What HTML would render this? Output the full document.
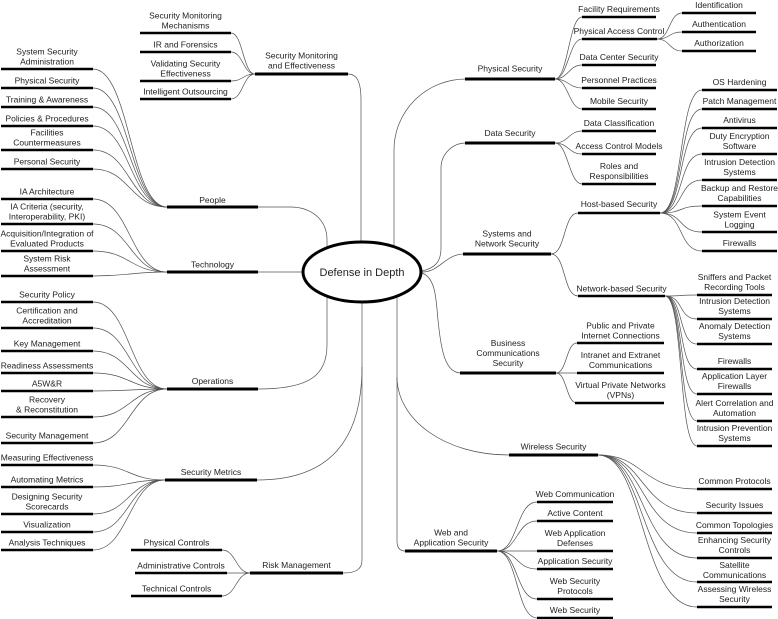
<!DOCTYPE html>
<html><head><meta charset="utf-8"><style>
html,body{margin:0;padding:0;background:#fff;}
svg{display:block;}
text{font-family:"Liberation Sans",Arial,sans-serif;font-size:8.5px;fill:#222;text-anchor:middle;}
.c{fill:none;stroke:#505050;stroke-width:0.7;}
.b1{stroke:#000;stroke-width:3;}
.b2{stroke:#000;stroke-width:2.6;}
</style></head><body>
<svg width="778" height="619" viewBox="0 0 778 619" xmlns="http://www.w3.org/2000/svg">
<!-- main connectors -->
<g class="c">
<path d="M348,74 C357,74 361,82 361,100 L361,243"/>
<path d="M394,247 L394,150 A72,71 0 0 1 466,79"/>
<path d="M422,271 C435,268 441,262 441,248 L441,168 A25,25 0 0 1 466,143"/>
<path d="M422,272 C440,272 445,254 464,254"/>
<path d="M422,273 C436,278 436,300 438,320 C441,350 445,373 461,373"/>
<path d="M258,207 L290,207 C312,207 327,220 327,240 L327,249"/>
<path d="M258,272 L304,272"/>
<path d="M327,295 L327,345 C327,375 310,389 258,389"/>
<path d="M362,302 L362,560 C362,570 355,573 343,573"/>
<path d="M362,367 C362,440 330,480 257,480"/>
<path d="M397,296 L397,541 C397,548 400,551 405,551"/>
<path d="M397,377 C397,420 445,455 509,455"/>

<!-- People fan -->
<path d="M93,69 C130,69 130,207 167,207"/>
<path d="M93,88 C130,88 130,207 167,207"/>
<path d="M93,107 C130,107 130,207 167,207"/>
<path d="M93,126 C130,126 130,207 167,207"/>
<path d="M93,150 C130,150 130,207 167,207"/>
<path d="M93,169 C130,169 130,207 167,207"/>
<!-- Technology fan -->
<path d="M93,199 C130,199 130,272 167,272"/>
<path d="M93,224 C130,224 130,272 167,272"/>
<path d="M93,251 C130,251 130,272 167,272"/>
<path d="M93,276 C130,276 130,272 167,272"/>
<!-- Operations fan -->
<path d="M93,302 C130,302 130,389 167,389"/>
<path d="M93,328 C130,328 130,389 167,389"/>
<path d="M93,351 C130,351 130,389 167,389"/>
<path d="M93,373 C130,373 130,389 167,389"/>
<path d="M93,391 C130,391 130,389 167,389"/>
<path d="M93,417 C130,417 130,389 167,389"/>
<path d="M93,443 C130,443 130,389 167,389"/>
<!-- Security Metrics fan -->
<path d="M93,465 C129,465 129,480 165,480"/>
<path d="M93,487 C129,487 129,480 165,480"/>
<path d="M93,514 C129,514 129,480 165,480"/>
<path d="M93,532 C129,532 129,480 165,480"/>
<path d="M93,550 C129,550 129,480 165,480"/>
<!-- Security Monitoring fan -->
<path d="M231,33 C243,33 243,74 255,74"/>
<path d="M231,52 C243,52 243,74 255,74"/>
<path d="M231,81 C243,81 243,74 255,74"/>
<path d="M231,99 C243,99 243,74 255,74"/>
<!-- Risk fan -->
<path d="M222,550 C236,550 236,573 250,573"/>
<path d="M227,573 L250,573"/>
<path d="M222,596 C236,596 236,573 250,573"/>

<!-- Physical Security fan -->
<path d="M555,79 C568,79 569,17 582,17"/>
<path d="M555,79 C568,79 569,39 582,39"/>
<path d="M555,79 C568,79 569,65 582,65"/>
<path d="M555,79 C568,79 569,88 582,88"/>
<path d="M555,79 C568,79 569,109 582,109"/>
<!-- PAC fan -->
<path d="M657,39 C670,39 669,13 682,13"/>
<path d="M657,39 C670,39 669,32 682,32"/>
<path d="M657,39 C670,39 669,51 682,51"/>
<!-- Data fan -->
<path d="M555,143 C568,143 569,131 582,131"/>
<path d="M555,143 C568,143 569,154 582,154"/>
<path d="M555,143 C568,143 569,184 582,184"/>
<!-- Sys & Net fan -->
<path d="M551,254 C566,254 563,213 578,213"/>
<path d="M551,254 C566,254 563,296 578,296"/>
<!-- Host fan -->
<path d="M660,213 C684,213 678,90 702,90"/>
<path d="M660,213 C684,213 678,109 702,109"/>
<path d="M660,213 C684,213 678,128 702,128"/>
<path d="M660,213 C684,213 678,154 702,154"/>
<path d="M660,213 C684,213 678,180 702,180"/>
<path d="M660,213 C684,213 678,206 702,206"/>
<path d="M660,213 C684,213 678,232 702,232"/>
<path d="M660,213 C684,213 678,251 702,251"/>
<!-- Network fan -->
<path d="M665,296 C684,296 678,295 697,295"/>
<path d="M665,296 C684,296 678,319 697,319"/>
<path d="M665,296 C684,296 678,344 697,344"/>
<path d="M665,296 C684,296 678,369 697,369"/>
<path d="M665,296 C684,296 678,394 697,394"/>
<path d="M665,296 C684,296 678,421 697,421"/>
<path d="M665,296 C684,296 678,446 697,446"/>
<!-- Business fan -->
<path d="M556,373 C567,373 566,343 577,343"/>
<path d="M556,373 L577,373"/>
<path d="M556,373 C567,373 566,403 577,403"/>
<!-- Wireless fan -->
<path d="M598,455 C645,455 640,489 697,489"/>
<path d="M598,455 C645,455 640,513 697,513"/>
<path d="M598,455 C645,455 640,533 697,533"/>
<path d="M598,455 C645,455 640,558 697,558"/>
<path d="M598,455 C645,455 640,582 697,582"/>
<path d="M598,455 C645,455 640,607 697,607"/>
<!-- Web fan -->
<path d="M497,551 C518,551 516,502 537,502"/>
<path d="M497,551 C518,551 516,521 537,521"/>
<path d="M497,551 L537,551"/>
<path d="M497,551 C518,551 516,569 537,569"/>
<path d="M497,551 C518,551 516,599 537,599"/>
<path d="M497,551 C518,551 516,618 537,618"/>
</g>

<!-- center ellipse -->
<ellipse cx="362" cy="272" rx="59" ry="30" fill="#fff" stroke="#000" stroke-width="3"/>
<text x="362" y="276" style="font-size:11px">Defense in Depth</text>

<!-- level 1 bars -->
<g class="b1">
<line x1="255" y1="74" x2="348" y2="74"/>
<line x1="167" y1="207" x2="258" y2="207"/>
<line x1="167" y1="272" x2="258" y2="272"/>
<line x1="167" y1="389" x2="258" y2="389"/>
<line x1="165" y1="480" x2="257" y2="480"/>
<line x1="250" y1="573" x2="343" y2="573"/>
<line x1="465" y1="79" x2="555" y2="79"/>
<line x1="465" y1="143" x2="555" y2="143"/>
<line x1="463" y1="254" x2="551" y2="254"/>
<line x1="460" y1="373" x2="556" y2="373"/>
<line x1="509" y1="455" x2="598" y2="455"/>
<line x1="405" y1="551" x2="497" y2="551"/>
</g>

<!-- level 2 bars -->
<g class="b2">
<line x1="1" y1="69" x2="93" y2="69"/>
<line x1="1" y1="88" x2="93" y2="88"/>
<line x1="1" y1="107" x2="93" y2="107"/>
<line x1="1" y1="126" x2="93" y2="126"/>
<line x1="1" y1="150" x2="93" y2="150"/>
<line x1="1" y1="169" x2="93" y2="169"/>
<line x1="1" y1="199" x2="93" y2="199"/>
<line x1="1" y1="224" x2="93" y2="224"/>
<line x1="1" y1="251" x2="93" y2="251"/>
<line x1="1" y1="276" x2="93" y2="276"/>
<line x1="1" y1="302" x2="93" y2="302"/>
<line x1="1" y1="328" x2="93" y2="328"/>
<line x1="1" y1="351" x2="93" y2="351"/>
<line x1="1" y1="373" x2="93" y2="373"/>
<line x1="1" y1="391" x2="93" y2="391"/>
<line x1="1" y1="417" x2="93" y2="417"/>
<line x1="1" y1="443" x2="93" y2="443"/>
<line x1="1" y1="465" x2="93" y2="465"/>
<line x1="1" y1="487" x2="93" y2="487"/>
<line x1="1" y1="514" x2="93" y2="514"/>
<line x1="1" y1="532" x2="93" y2="532"/>
<line x1="1" y1="550" x2="93" y2="550"/>

<line x1="140" y1="33" x2="231" y2="33"/>
<line x1="140" y1="52" x2="231" y2="52"/>
<line x1="140" y1="81" x2="231" y2="81"/>
<line x1="140" y1="99" x2="231" y2="99"/>

<line x1="131" y1="550" x2="222" y2="550"/>
<line x1="135" y1="573" x2="227" y2="573"/>
<line x1="131" y1="596" x2="222" y2="596"/>

<line x1="582" y1="17" x2="656" y2="17"/>
<line x1="582" y1="39" x2="657" y2="39"/>
<line x1="582" y1="65" x2="656" y2="65"/>
<line x1="582" y1="88" x2="656" y2="88"/>
<line x1="582" y1="109" x2="656" y2="109"/>

<line x1="682" y1="13" x2="756" y2="13"/>
<line x1="682" y1="32" x2="756" y2="32"/>
<line x1="682" y1="51" x2="756" y2="51"/>

<line x1="582" y1="131" x2="656" y2="131"/>
<line x1="582" y1="154" x2="656" y2="154"/>
<line x1="582" y1="184" x2="656" y2="184"/>

<line x1="578" y1="213" x2="660" y2="213"/>
<line x1="578" y1="296" x2="665" y2="296"/>

<line x1="702" y1="90" x2="777" y2="90"/>
<line x1="702" y1="109" x2="777" y2="109"/>
<line x1="702" y1="128" x2="777" y2="128"/>
<line x1="702" y1="154" x2="777" y2="154"/>
<line x1="702" y1="180" x2="777" y2="180"/>
<line x1="702" y1="206" x2="777" y2="206"/>
<line x1="702" y1="232" x2="777" y2="232"/>
<line x1="702" y1="251" x2="777" y2="251"/>

<line x1="697" y1="295" x2="772" y2="295"/>
<line x1="697" y1="319" x2="772" y2="319"/>
<line x1="697" y1="344" x2="772" y2="344"/>
<line x1="697" y1="369" x2="772" y2="369"/>
<line x1="697" y1="394" x2="772" y2="394"/>
<line x1="697" y1="421" x2="772" y2="421"/>
<line x1="697" y1="446" x2="772" y2="446"/>

<line x1="577" y1="343" x2="664" y2="343"/>
<line x1="577" y1="373" x2="664" y2="373"/>
<line x1="575" y1="403" x2="664" y2="403"/>

<line x1="697" y1="489" x2="772" y2="489"/>
<line x1="697" y1="513" x2="772" y2="513"/>
<line x1="697" y1="533" x2="772" y2="533"/>
<line x1="697" y1="558" x2="772" y2="558"/>
<line x1="697" y1="582" x2="772" y2="582"/>
<line x1="697" y1="607" x2="772" y2="607"/>

<line x1="537" y1="502" x2="613" y2="502"/>
<line x1="537" y1="521" x2="613" y2="521"/>
<line x1="537" y1="551" x2="613" y2="551"/>
<line x1="537" y1="569" x2="613" y2="569"/>
<line x1="537" y1="599" x2="613" y2="599"/>
<line x1="537" y1="618" x2="613" y2="618"/>
</g>

<!-- left children labels -->
<text x="47" y="54.5">System Security</text>
<text x="47" y="64.5">Administration</text>
<text x="47" y="83.5">Physical Security</text>
<text x="47" y="102.5">Training &amp; Awareness</text>
<text x="47" y="121.5">Policies &amp; Procedures</text>
<text x="47" y="135.5">Facilities</text>
<text x="47" y="145.5">Countermeasures</text>
<text x="47" y="164.5">Personal Security</text>
<text x="47" y="194.5">IA Architecture</text>
<text x="47" y="209.5">IA Criteria (security,</text>
<text x="47" y="219.5">Interoperability, PKI)</text>
<text x="47" y="236.5">Acquisition/Integration of</text>
<text x="47" y="246.5">Evaluated Products</text>
<text x="47" y="261.5">System Risk</text>
<text x="47" y="271.5">Assessment</text>
<text x="47" y="297.5">Security Policy</text>
<text x="47" y="313.5">Certification and</text>
<text x="47" y="323.5">Accreditation</text>
<text x="47" y="346.5">Key Management</text>
<text x="47" y="368.5">Readiness Assessments</text>
<text x="47" y="386.5">A5W&amp;R</text>
<text x="47" y="402.5">Recovery</text>
<text x="47" y="412.5">&amp; Reconstitution</text>
<text x="47" y="438.5">Security Management</text>
<text x="47" y="460.5">Measuring Effectiveness</text>
<text x="47" y="482.5">Automating Metrics</text>
<text x="47" y="499.5">Designing Security</text>
<text x="47" y="509.5">Scorecards</text>
<text x="47" y="527.5">Visualization</text>
<text x="47" y="545.5">Analysis Techniques</text>

<text x="185.5" y="18.5">Security Monitoring</text>
<text x="185.5" y="28.5">Mechanisms</text>
<text x="185.5" y="47.5">IR and Forensics</text>
<text x="185.5" y="66.5">Validating Security</text>
<text x="185.5" y="76.5">Effectiveness</text>
<text x="185.5" y="94.5">Intelligent Outsourcing</text>

<text x="176.5" y="545.5">Physical Controls</text>
<text x="181" y="568.5">Administrative Controls</text>
<text x="176.5" y="591.5">Technical Controls</text>

<!-- level 1 labels -->
<text x="301.5" y="58.5">Security Monitoring</text>
<text x="301.5" y="68.5">and Effectiveness</text>
<text x="212.5" y="203">People</text>
<text x="212.5" y="267.5">Technology</text>
<text x="212.5" y="384">Operations</text>
<text x="211" y="475">Security Metrics</text>
<text x="296.5" y="568">Risk Management</text>
<text x="510" y="71.5">Physical Security</text>
<text x="510" y="136">Data Security</text>
<text x="507" y="236.5">Systems and</text>
<text x="507" y="246.5">Network Security</text>
<text x="508" y="346">Business</text>
<text x="508" y="356">Communications</text>
<text x="508" y="366">Security</text>
<text x="553.5" y="449.5">Wireless Security</text>
<text x="451" y="535.5">Web and</text>
<text x="451" y="545.5">Application Security</text>

<!-- right level 2 labels -->
<text x="619" y="12">Facility Requirements</text>
<text x="619" y="34">Physical Access Control</text>
<text x="619" y="60">Data Center Security</text>
<text x="619" y="83">Personnel Practices</text>
<text x="619" y="104">Mobile Security</text>

<text x="719" y="8">Identification</text>
<text x="719" y="27">Authentication</text>
<text x="719" y="46">Authorization</text>

<text x="619" y="126">Data Classification</text>
<text x="619" y="149">Access Control Models</text>
<text x="619" y="169">Roles and</text>
<text x="619" y="179">Responsibilities</text>

<text x="619" y="207">Host-based Security</text>
<text x="621.5" y="291.5">Network-based Security</text>

<text x="739.5" y="85">OS Hardening</text>
<text x="739.5" y="104">Patch Management</text>
<text x="739.5" y="123">Antivirus</text>
<text x="739.5" y="139">Duty Encryption</text>
<text x="739.5" y="149">Software</text>
<text x="739.5" y="165">Intrusion Detection</text>
<text x="739.5" y="175">Systems</text>
<text x="739.5" y="191">Backup and Restore</text>
<text x="739.5" y="201">Capabilities</text>
<text x="739.5" y="217.5">System Event</text>
<text x="739.5" y="227.5">Logging</text>
<text x="739.5" y="246">Firewalls</text>

<text x="734.5" y="280">Sniffers and Packet</text>
<text x="734.5" y="290">Recording Tools</text>
<text x="734.5" y="304">Intrusion Detection</text>
<text x="734.5" y="314">Systems</text>
<text x="734.5" y="329">Anomaly Detection</text>
<text x="734.5" y="339">Systems</text>
<text x="734.5" y="364">Firewalls</text>
<text x="734.5" y="379">Application Layer</text>
<text x="734.5" y="389">Firewalls</text>
<text x="734.5" y="406">Alert Correlation and</text>
<text x="734.5" y="416">Automation</text>
<text x="734.5" y="431">Intrusion Prevention</text>
<text x="734.5" y="441">Systems</text>

<text x="620.5" y="328.5">Public and Private</text>
<text x="620.5" y="338.5">Internet Connections</text>
<text x="620.5" y="358">Intranet and Extranet</text>
<text x="620.5" y="368">Communications</text>
<text x="620.5" y="388">Virtual Private Networks</text>
<text x="620.5" y="398">(VPNs)</text>

<text x="734.5" y="484">Common Protocols</text>
<text x="734.5" y="508">Security Issues</text>
<text x="734.5" y="528">Common Topologies</text>
<text x="734.5" y="543">Enhancing Security</text>
<text x="734.5" y="553">Controls</text>
<text x="734.5" y="568">Satellite</text>
<text x="734.5" y="578">Communications</text>
<text x="734.5" y="592">Assessing Wireless</text>
<text x="734.5" y="602">Security</text>

<text x="575" y="497">Web Communication</text>
<text x="575" y="516">Active Content</text>
<text x="575" y="536">Web Application</text>
<text x="575" y="546">Defenses</text>
<text x="575" y="564">Application Security</text>
<text x="575" y="584">Web Security</text>
<text x="575" y="594">Protocols</text>
<text x="575" y="613">Web Security</text>
</svg>
</body></html>
